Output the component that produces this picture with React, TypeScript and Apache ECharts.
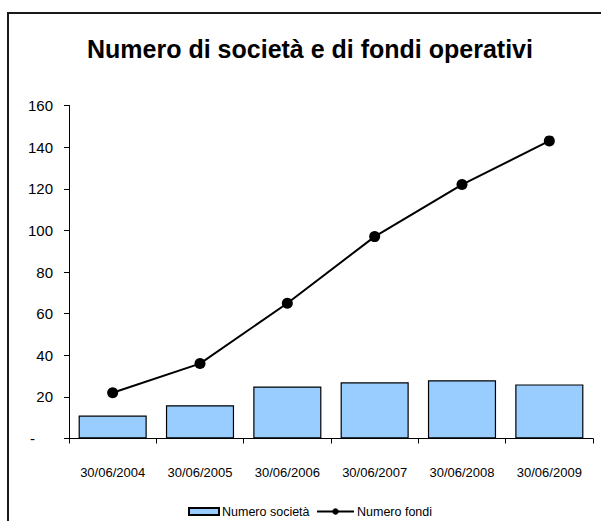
import React, { useEffect, useRef } from "react";
import * as echarts from "echarts";

const categories = ["30/06/2004", "30/06/2005", "30/06/2006", "30/06/2007", "30/06/2008", "30/06/2009"];
const numeroSocieta = [11, 16, 25, 27, 28, 26];
const numeroFondi = [22, 36, 65, 97, 122, 143];
const titleText = "Numero di società e di fondi operativi";
const seriesNames = ["Numero società", "Numero fondi"];

const FONT = "'Liberation Sans', Arial, sans-serif";

export default function App() {
  const ref = useRef<HTMLDivElement>(null);
  useEffect(() => {
    if (!ref.current) return;
    const chart = echarts.init(ref.current, undefined, { renderer: "svg" });
    const legendText = { fontFamily: FONT, fontSize: 12.5, color: "#000", padding: [0, 0, 0, -2] };
    chart.setOption({
      animation: false,
      backgroundColor: "#ffffff",
      textStyle: { fontFamily: FONT, color: "#000" },
      title: {
        text: titleText,
        left: 305,
        top: 31,
        textAlign: "center",
        textStyle: { fontFamily: FONT, fontSize: 25, fontWeight: "bold", color: "#000" },
      },
      graphic: [
        {
          type: "rect",
          shape: { x: 8, y: 13, width: 700, height: 600 },
          style: { fill: "none", stroke: "#1a1a1a", lineWidth: 2 },
          silent: true,
          z: 100,
        },
      ],
      legend: [
        {
          left: 188,
          top: 505,
          padding: 0,
          itemWidth: 30,
          itemHeight: 7,
          textStyle: legendText,
          data: [{ name: seriesNames[0], icon: "rect" }],
        },
        {
          left: 316,
          top: 505,
          padding: 0,
          itemWidth: 37,
          itemHeight: 8,
          textStyle: legendText,
          data: [{ name: seriesNames[1] }],
        },
      ],
      grid: { left: 69, right: 8, top: 105.5, bottom: 82.5, containLabel: false },
      xAxis: {
        type: "category",
        data: categories,
        boundaryGap: true,
        axisLine: { show: true, lineStyle: { color: "#000", width: 1 } },
        axisTick: { show: true, length: 5, lineStyle: { color: "#000" } },
        axisLabel: { fontFamily: FONT, fontSize: 13, color: "#000", margin: 27 },
        splitLine: { show: false },
      },
      yAxis: {
        type: "value",
        min: 0,
        max: 160,
        interval: 20,
        axisLine: { show: true, lineStyle: { color: "#000", width: 1 } },
        axisTick: { show: true, length: 5, lineStyle: { color: "#000" } },
        splitLine: { show: false },
        axisLabel: {
          fontFamily: FONT,
          fontSize: 15,
          color: "#000",
          margin: 16,
          formatter: (v: number) => (v === 0 ? "{d|-}" : String(v)),
          rich: { d: { fontFamily: FONT, fontSize: 15, color: "#000", padding: [0, 18, 0, 0] } },
        },
      },
      series: [
        {
          name: seriesNames[0],
          type: "bar",
          data: numeroSocieta,
          barCategoryGap: "22%",
          itemStyle: { color: "#99CCFF", borderColor: "#000", borderWidth: 1.2 },
        },
        {
          name: seriesNames[1],
          type: "line",
          data: numeroFondi,
          symbol: "circle",
          symbolSize: 11,
          lineStyle: { color: "#000", width: 2 },
          itemStyle: { color: "#000" },
        },
      ],
    });
    return () => chart.dispose();
  }, []);
  return (
    <div
      ref={ref}
      style={{ position: "fixed", left: 0, top: 0, width: 601, height: 521, background: "#fff" }}
    />
  );
}
